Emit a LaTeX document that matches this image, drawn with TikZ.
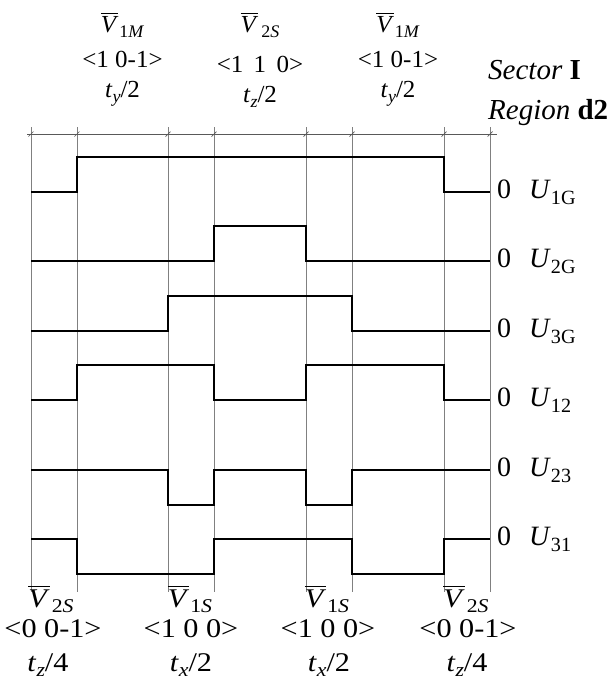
\documentclass[tikz,border=0pt]{standalone}
\usepackage{fontspec}
\usepackage{graphicx}
\setmainfont{Liberation Serif}
\newfontfamily\topfont{Liberation Serif}[FakeStretch=1.02]
\newfontfamily\botfont{Liberation Serif}[FakeStretch=1.12]
\tikzset{
  gridline/.style={draw=black!50, line width=0.8pt},
  dimline/.style={draw=black!65, line width=0.7pt},
  wave/.style={draw=black, line width=2.7pt, line join=miter},
  toplab/.style={font=\topfont\fontsize{24.5}{28}\selectfont, anchor=base, inner sep=0pt},
  botlab/.style={font=\botfont\fontsize{27}{30}\selectfont, anchor=base, inner sep=0pt},
  sidelab/.style={font=\fontsize{28}{32}\selectfont, anchor=base west, inner sep=0pt},
  sectlab/.style={font=\fontsize{29}{32}\selectfont, anchor=base west, inner sep=0pt},
}
\newcommand\mysub[1]{\raisebox{-0.22em}{\scalebox{0.72}{#1}}}
\newcommand\barV{\vbox{\hrule height 0.9pt\kern 2pt\hbox{\textit{V}}}}
\newcommand\wsp{\hspace{0.42em}}
\begin{document}
\begin{tikzpicture}[x=1pt,y=-1pt]
\useasboundingbox (0,0) rectangle (613,686);
% grid lines
\foreach \n/\x in {0/31,1/77,2/168,3/214,4/306,5/352,6/444,7/490}{
  \coordinate (t\n) at (\x,127);
  \coordinate (b\n) at (\x,592);
  \draw[gridline] (t\n) -- (b\n);
  \draw[dimline] (\x-2.5,136.5) -- (\x+2.5,131.5);
}
% dimension line
\coordinate (dl) at (27,134);
\coordinate (dr) at (497,134);
\draw[dimline] (dl) -- (dr);
% waveforms
\draw[wave] (31,192) -| (77,157) -| (444,192) -- (490,192);
\draw[wave] (31,261) -| (214,226) -| (306,261) -- (490,261);
\draw[wave] (31,331) -| (168,296) -| (352,331) -- (490,331);
\draw[wave] (31,400) -| (77,365) -| (214,400) -| (306,365) -| (444,400) -- (490,400);
\draw[wave] (31,470) -| (168,505) -| (214,470) -| (306,505) -| (352,470) -- (490,470);
\draw[wave] (31,539) -| (77,574) -| (214,539) -| (352,574) -| (444,539) -- (490,539);
% right labels
\node[sidelab] (z1) at (497,198) {0};
\node[sidelab] (u1) at (529,198) {\textit{U}\mysub{1G}};
\node[sidelab] (z2) at (497,267) {0};
\node[sidelab] (u2) at (529,267) {\textit{U}\mysub{2G}};
\node[sidelab] (z3) at (497,337) {0};
\node[sidelab] (u3) at (529,337) {\textit{U}\mysub{3G}};
\node[sidelab] (z4) at (497,406) {0};
\node[sidelab] (u4) at (529,406) {\textit{U}\mysub{12}};
\node[sidelab] (z5) at (497,476) {0};
\node[sidelab] (u5) at (529,476) {\textit{U}\mysub{23}};
\node[sidelab] (z6) at (497,545) {0};
\node[sidelab] (u6) at (529,545) {\textit{U}\mysub{31}};
% sector / region
\node[sectlab] (sec) at (488,79) {\textit{Sector} \textbf{I}};
\node[sectlab] (reg) at (488,119) {\textit{Region} \textbf{d2}};
% top labels
\node[toplab] (va) at (122.5,32) {\barV\kern1pt\mysub{1\textit{M}}};
\node[toplab] (ca) at (122.5,67) {<1 0-1>};
\node[toplab] (ta) at (122.5,97) {\textit{t}\mysub{\textit{y}}/2};
\node[toplab] (vb) at (260,32) {\barV\kern3pt\mysub{2\textit{S}}};
\node[toplab] (cb) at (260,72) {<1\wsp1\wsp0>};
\node[toplab] (tb) at (260,102) {\textit{t}\mysub{\textit{z}}/2};
\node[toplab] (vc) at (398,32) {\barV\kern1pt\mysub{1\textit{M}}};
\node[toplab] (cc) at (398,67) {<1 0-1>};
\node[toplab] (tc) at (398,97) {\textit{t}\mysub{\textit{y}}/2};
% bottom labels
\node[botlab] (vd) at (51,607) {\barV\kern2pt\mysub{2\textit{S}}};
\node[botlab] (cd) at (53,637) {<0 0-1>};
\node[botlab] (td) at (48,671) {\textit{t}\mysub{\textit{z}}/4};
\node[botlab] (ve) at (190,607) {\barV\kern1pt\mysub{1\textit{S}}};
\node[botlab] (ce) at (191,637) {<1 0 0>};
\node[botlab] (te) at (191,671) {\textit{t}\mysub{\textit{x}}/2};
\node[botlab] (vf) at (327,607) {\barV\kern1pt\mysub{1\textit{S}}};
\node[botlab] (cf) at (328,637) {<1 0 0>};
\node[botlab] (tf) at (329,671) {\textit{t}\mysub{\textit{x}}/2};
\node[botlab] (vg) at (466,607) {\barV\kern2pt\mysub{2\textit{S}}};
\node[botlab] (cg) at (468,637) {<0 0-1>};
\node[botlab] (tg) at (467,671) {\textit{t}\mysub{\textit{z}}/4};
\end{tikzpicture}
\end{document}
